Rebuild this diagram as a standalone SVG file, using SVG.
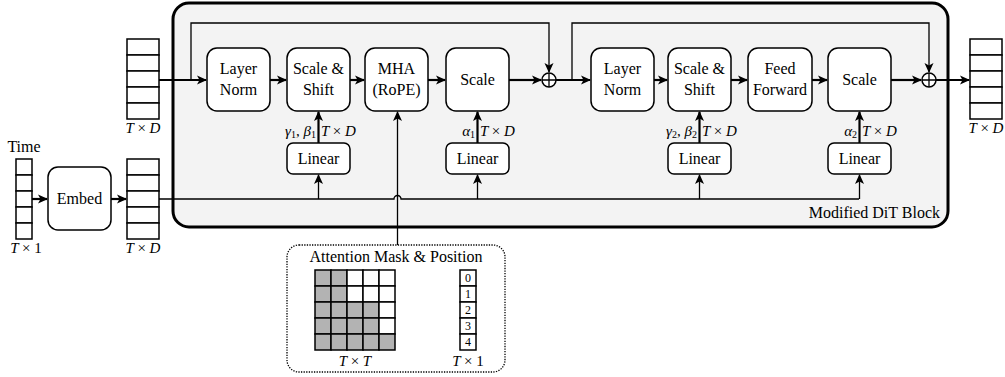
<svg xmlns="http://www.w3.org/2000/svg" width="1005" height="377" viewBox="0 0 1005 377" font-family="'Liberation Serif', 'Times New Roman', Times, Tinos, 'Noto Serif', 'DejaVu Serif', serif">
<defs>
<marker id="ah" viewBox="0 0 10 10" refX="9" refY="5" markerWidth="10" markerHeight="10" markerUnits="userSpaceOnUse" orient="auto">
<path d="M0,0.5 L10,5 L0,9.5 L2.5,5 z" fill="#000"/>
</marker>
</defs>
<style>
text{font-family:'Liberation Serif','Times New Roman',Times,Tinos,'Noto Serif','DejaVu Serif',serif;fill:#000}
.lbl{font-size:16px;text-anchor:middle}
.math{font-size:15px;font-style:italic}
.up{font-style:normal}
.box{fill:#fff;stroke:#000;stroke-width:1.5}
.cell{fill:#fff;stroke:#000;stroke-width:1.5}
.g{fill:#b3b3b3;stroke:#000;stroke-width:1.5}
.thick{fill:none;stroke:#000;stroke-width:2.2}
.thin{fill:none;stroke:#000;stroke-width:1.3}
</style>

<g id="block">
<rect x="173" y="3" width="775" height="224" rx="16" fill="#f3f3f3" stroke="#000" stroke-width="3"/>
<text x="940" y="218" font-size="16" text-anchor="end">Modified DiT Block</text>
</g>

<g id="input">
<rect class="cell" x="127" y="39" width="32" height="16"/><rect class="cell" x="127" y="55" width="32" height="16"/><rect class="cell" x="127" y="71" width="32" height="16"/><rect class="cell" x="127" y="87" width="32" height="16"/><rect class="cell" x="127" y="103" width="32" height="16"/>
<text class="math" x="143" y="133" text-anchor="middle">T <tspan class="up">×</tspan> D</text>
</g>

<g id="output">
<rect class="cell" x="970" y="39" width="32" height="16"/><rect class="cell" x="970" y="55" width="32" height="16"/><rect class="cell" x="970" y="71" width="32" height="16"/><rect class="cell" x="970" y="87" width="32" height="16"/><rect class="cell" x="970" y="103" width="32" height="16"/>
<text class="math" x="986" y="133" text-anchor="middle">T <tspan class="up">×</tspan> D</text>
</g>

<g id="time">
<text x="24" y="152" font-size="16" text-anchor="middle">Time</text>
<rect class="cell" x="16" y="159" width="16" height="16"/><rect class="cell" x="16" y="175" width="16" height="16"/><rect class="cell" x="16" y="191" width="16" height="16"/><rect class="cell" x="16" y="207" width="16" height="16"/><rect class="cell" x="16" y="223" width="16" height="16"/>
<text class="math" x="26" y="253" text-anchor="middle">T <tspan class="up">× 1</tspan></text>
</g>

<g id="embed">
<rect class="box" x="48" y="167" width="63" height="63" rx="10"/>
<text class="lbl" x="79.5" y="204">Embed</text>
</g>

<g id="embedout">
<rect class="cell" x="127" y="159" width="32" height="16"/><rect class="cell" x="127" y="175" width="32" height="16"/><rect class="cell" x="127" y="191" width="32" height="16"/><rect class="cell" x="127" y="207" width="32" height="16"/><rect class="cell" x="127" y="223" width="32" height="16"/>
<text class="math" x="143" y="253" text-anchor="middle">T <tspan class="up">×</tspan> D</text>
</g>

<g id="ln1"><rect class="box" x="207" y="48" width="63" height="63" rx="10"/><text class="lbl" x="238.5" y="74">Layer</text><text class="lbl" x="238.5" y="95">Norm</text></g>
<g id="ss1"><rect class="box" x="287" y="48" width="63" height="63" rx="10"/><text class="lbl" x="318.5" y="74">Scale &amp;</text><text class="lbl" x="318.5" y="95">Shift</text></g>
<g id="mha"><rect class="box" x="365" y="48" width="63" height="63" rx="10"/><text class="lbl" x="396.5" y="74">MHA</text><text class="lbl" x="396.5" y="95">(RoPE)</text></g>
<g id="sc1"><rect class="box" x="446" y="48" width="63" height="63" rx="10"/><text class="lbl" x="477.5" y="85">Scale</text></g>
<g id="ln2"><rect class="box" x="591" y="48" width="63" height="63" rx="10"/><text class="lbl" x="622.5" y="74">Layer</text><text class="lbl" x="622.5" y="95">Norm</text></g>
<g id="ss2"><rect class="box" x="668" y="48" width="63" height="63" rx="10"/><text class="lbl" x="699.5" y="74">Scale &amp;</text><text class="lbl" x="699.5" y="95">Shift</text></g>
<g id="ff"><rect class="box" x="748" y="48" width="64" height="63" rx="10"/><text class="lbl" x="780" y="74">Feed</text><text class="lbl" x="780" y="95">Forward</text></g>
<g id="sc2"><rect class="box" x="828" y="48" width="63" height="63" rx="10"/><text class="lbl" x="859.5" y="85">Scale</text></g>

<g id="lin1"><rect class="box" x="287" y="143" width="63" height="31" rx="6"/><text class="lbl" x="318.5" y="164">Linear</text></g>
<g id="lin2"><rect class="box" x="446" y="143" width="63" height="31" rx="6"/><text class="lbl" x="477.5" y="164">Linear</text></g>
<g id="lin3"><rect class="box" x="668" y="143" width="63" height="31" rx="6"/><text class="lbl" x="699.5" y="164">Linear</text></g>
<g id="lin4"><rect class="box" x="828" y="143" width="63" height="31" rx="6"/><text class="lbl" x="859.5" y="164">Linear</text></g>

<g id="plus1"><circle cx="549" cy="80" r="7" fill="#fff" stroke="#000" stroke-width="1.5"/><path d="M542,80 H556 M549,73 V87" stroke="#000" stroke-width="1.3"/></g>
<g id="plus2"><circle cx="929" cy="80" r="7" fill="#fff" stroke="#000" stroke-width="1.5"/><path d="M922,80 H936 M929,73 V87" stroke="#000" stroke-width="1.3"/></g>

<g id="attn">
<rect x="287" y="245" width="218" height="127" rx="12" fill="#fff" stroke="#000" stroke-width="1.3" stroke-dasharray="1.3 1.3"/>
<text x="396" y="262" font-size="16" text-anchor="middle">Attention Mask &amp; Position</text>
<g>
<rect class="g" x="315" y="270" width="16" height="16"/><rect class="g" x="331" y="270" width="16" height="16"/><rect class="cell" x="347" y="270" width="16" height="16"/><rect class="cell" x="363" y="270" width="16" height="16"/><rect class="cell" x="379" y="270" width="16" height="16"/>
<rect class="g" x="315" y="286" width="16" height="16"/><rect class="g" x="331" y="286" width="16" height="16"/><rect class="cell" x="347" y="286" width="16" height="16"/><rect class="cell" x="363" y="286" width="16" height="16"/><rect class="cell" x="379" y="286" width="16" height="16"/>
<rect class="g" x="315" y="302" width="16" height="16"/><rect class="g" x="331" y="302" width="16" height="16"/><rect class="g" x="347" y="302" width="16" height="16"/><rect class="g" x="363" y="302" width="16" height="16"/><rect class="cell" x="379" y="302" width="16" height="16"/>
<rect class="g" x="315" y="318" width="16" height="16"/><rect class="g" x="331" y="318" width="16" height="16"/><rect class="g" x="347" y="318" width="16" height="16"/><rect class="g" x="363" y="318" width="16" height="16"/><rect class="cell" x="379" y="318" width="16" height="16"/>
<rect class="g" x="315" y="334" width="16" height="16"/><rect class="g" x="331" y="334" width="16" height="16"/><rect class="g" x="347" y="334" width="16" height="16"/><rect class="g" x="363" y="334" width="16" height="16"/><rect class="g" x="379" y="334" width="16" height="16"/>
</g>
<text class="math" x="355" y="366" text-anchor="middle">T <tspan class="up">×</tspan> T</text>
<g font-size="12" text-anchor="middle">
<rect class="cell" x="460" y="270" width="16" height="16"/><text x="468" y="282">0</text>
<rect class="cell" x="460" y="286" width="16" height="16"/><text x="468" y="298">1</text>
<rect class="cell" x="460" y="302" width="16" height="16"/><text x="468" y="314">2</text>
<rect class="cell" x="460" y="318" width="16" height="16"/><text x="468" y="330">3</text>
<rect class="cell" x="460" y="334" width="16" height="16"/><text x="468" y="346">4</text>
</g>
<text class="math" x="468" y="366" text-anchor="middle">T <tspan class="up">× 1</tspan></text>
</g>

<g id="connectors">
<path class="thick" d="M159,80 H206" marker-end="url(#ah)"/>
<path class="thin" d="M191,80 V23 H549 V72" marker-end="url(#ah)"/>
<path class="thick" d="M270,80 H286" marker-end="url(#ah)"/>
<path class="thick" d="M350,80 H364" marker-end="url(#ah)"/>
<path class="thick" d="M428,80 H445" marker-end="url(#ah)"/>
<path class="thick" d="M509,80 H541" marker-end="url(#ah)"/>
<path class="thick" d="M556,80 H590" marker-end="url(#ah)"/>
<path class="thin" d="M572,80 V23 H929 V72" marker-end="url(#ah)"/>
<path class="thick" d="M654,80 H667" marker-end="url(#ah)"/>
<path class="thick" d="M731,80 H747" marker-end="url(#ah)"/>
<path class="thick" d="M812,80 H827" marker-end="url(#ah)"/>
<path class="thick" d="M891,80 H921" marker-end="url(#ah)"/>
<path class="thick" d="M936,80 H969" marker-end="url(#ah)"/>
<path class="thick" d="M32,199 H47" marker-end="url(#ah)"/>
<path class="thick" d="M111,199 H126" marker-end="url(#ah)"/>
<path class="thin" d="M159,199 H394 A3.5,3.5 0 0 1 401,199 H859"/>
<path class="thin" d="M318.5,199 V175" marker-end="url(#ah)"/>
<path class="thin" d="M477.5,199 V175" marker-end="url(#ah)"/>
<path class="thin" d="M699.5,199 V175" marker-end="url(#ah)"/>
<path class="thin" d="M859.5,199 V175" marker-end="url(#ah)"/>
<path class="thick" d="M318.5,143 V112" marker-end="url(#ah)"/>
<path class="thick" d="M477.5,143 V112" marker-end="url(#ah)"/>
<path class="thick" d="M699.5,143 V112" marker-end="url(#ah)"/>
<path class="thick" d="M859.5,143 V112" marker-end="url(#ah)"/>
<path class="thin" d="M397.5,245 V112" marker-end="url(#ah)"/>
</g>

<g id="labels">
<text class="math" x="316" y="136" text-anchor="end">γ<tspan class="up" font-size="10" dy="2">1</tspan><tspan class="up" dy="-2">, </tspan>β<tspan class="up" font-size="10" dy="2">1</tspan></text>
<text class="math" x="321" y="136">T <tspan class="up">×</tspan> D</text>
<text class="math" x="475" y="136" text-anchor="end">α<tspan class="up" font-size="10" dy="2">1</tspan></text>
<text class="math" x="480" y="136">T <tspan class="up">×</tspan> D</text>
<text class="math" x="697" y="136" text-anchor="end">γ<tspan class="up" font-size="10" dy="2">2</tspan><tspan class="up" dy="-2">, </tspan>β<tspan class="up" font-size="10" dy="2">2</tspan></text>
<text class="math" x="702" y="136">T <tspan class="up">×</tspan> D</text>
<text class="math" x="857" y="136" text-anchor="end">α<tspan class="up" font-size="10" dy="2">2</tspan></text>
<text class="math" x="862" y="136">T <tspan class="up">×</tspan> D</text>
</g>
</svg>
